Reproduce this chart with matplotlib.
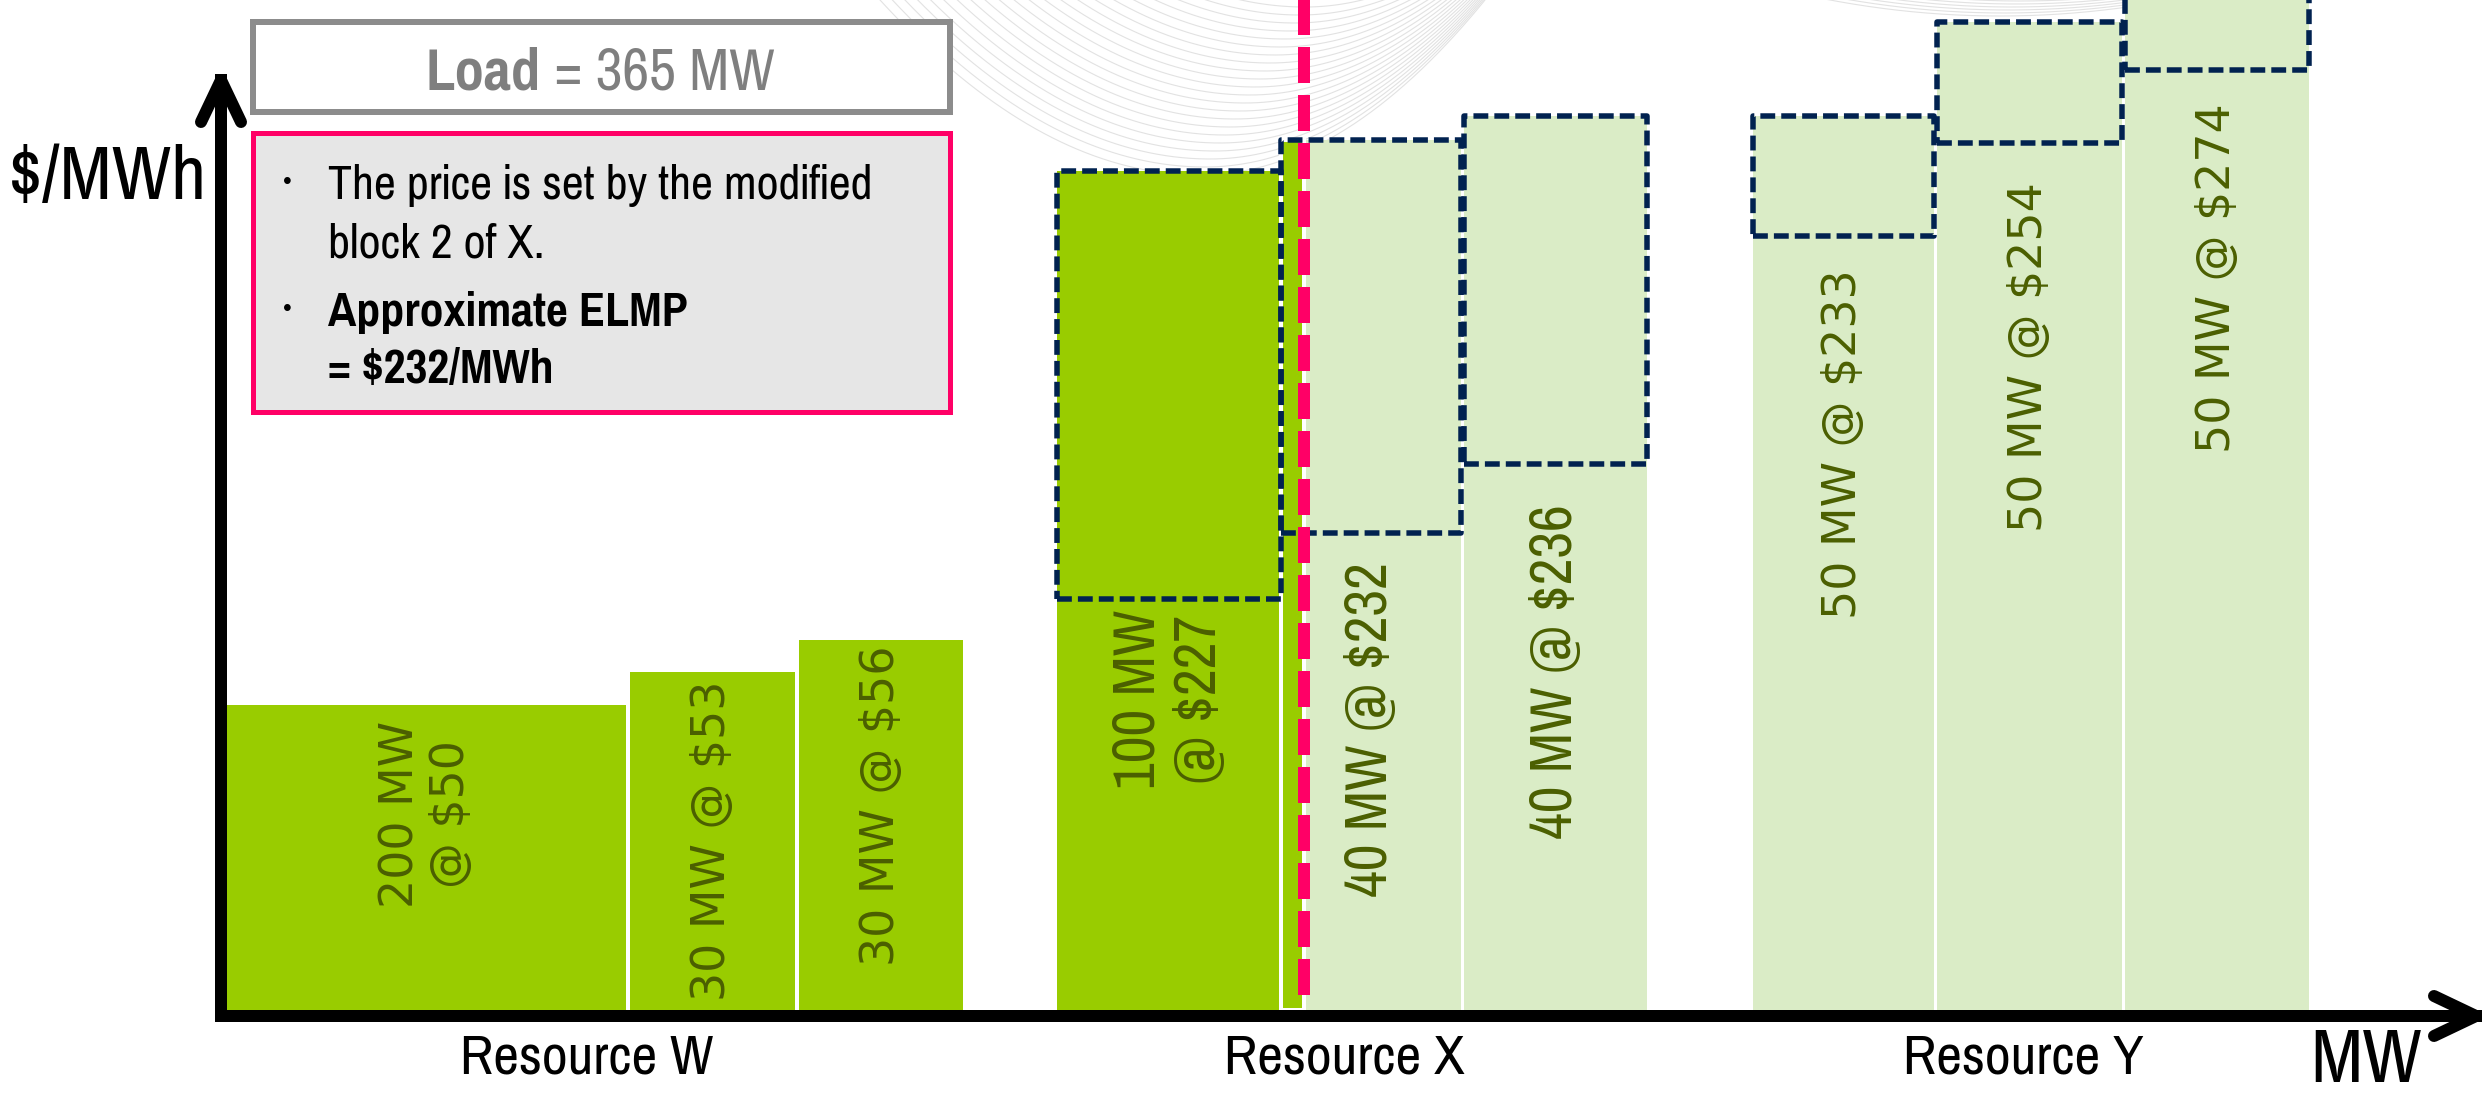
import matplotlib
matplotlib.use("Agg")
import matplotlib.pyplot as plt
import matplotlib.patches as patches
import numpy as np

# ---------------------------------------------------------------------------
# Data (offer stack, schematic - bars are not drawn to scale)
# ---------------------------------------------------------------------------
resources = ["Resource W", "Resource X", "Resource Y"]
block_resource = [0, 0, 0, 1, 1, 1, 2, 2, 2]
block_mw = [200, 30, 30, 100, 40, 40, 50, 50, 50]
block_price = [50, 53, 56, 227, 232, 236, 233, 254, 274]
label_wrap = [True, False, False, True, False, False, False, False, False]

# bar heights as drawn on the slide (px above the MW axis)
offer_height = [305, 338, 370, 411, 477, 546, 774, 867, 940]
modified_height = [None, None, None, 839, 870, 894, 894, 988, 1050]

load_mw = 365
elmp = 232

# ---------------------------------------------------------------------------
# Layout (pixels, origin at the axes corner)
# ---------------------------------------------------------------------------
bar_left = [6, 409, 578, 836, 1060, 1243, 1532, 1716, 1904]
bar_width = [399, 165, 164, 224, 180, 183, 181, 185, 184]
label_drop = [16, 9, 6, 11, 29, 40, 33, 39, 33]

W, H = 2484, 1095
X0, Y0 = 221, 1010          # axes corner in image pixels

DARK = "#99cc00"
LIGHT = "#daecc6"
NAVY = "#012250"
PINK = "#ff0066"
OLIVE = "#4b5f00"
GREY = "#8c8c8c"

NARROW = ["Pragati Narrow", "Roboto Condensed", "Archivo Narrow",
          "IBM Plex Sans Condensed", "Liberation Sans", "DejaVu Sans"]
WIDE = ["DejaVu Sans"]
PT = 72 / 100               # points per pixel at dpi 100

fig = plt.figure(figsize=(W / 100, H / 100), dpi=100)
ax = fig.add_axes([0, 0, 1, 1])
ax.set_xlim(-X0, W - X0)
ax.set_ylim(Y0 - H, Y0)
ax.axis("off")


def px(x, y):
    """image pixel -> data coords"""
    return np.asarray(x) - X0, Y0 - np.asarray(y)


# --- faint background swirl (slide template decoration) ---
xs = np.linspace(700, 1700, 600)
for i in range(22):
    bottom = 175 - 8 * i
    xc = 1200 + 5 * i
    k = np.where(xs < xc, 175 / 320 ** 2, 175 / 285 ** 2)
    ys = bottom - k * (xs - xc) ** 2
    m = ys > -5
    ax.plot(*px(xs[m], ys[m]), color="#e2e2e2", lw=0.8, zorder=0)
xs2 = np.linspace(1800, 2200, 300)
for i in range(6):
    ys = 16 - 3 * i - 16 / 170 ** 2 * (xs2 - 2000 - 4 * i) ** 2
    m = ys > -5
    ax.plot(*px(xs2[m], ys[m]), color="#e2e2e2", lw=0.8, zorder=0)

# --- bars ---
cum_before = np.concatenate([[0], np.cumsum(block_mw)[:-1]])
pink_x = None
for i in range(len(block_mw)):
    top = modified_height[i] if modified_height[i] is not None else offer_height[i]
    cleared = np.clip((load_mw - cum_before[i]) / block_mw[i], 0, 1)
    if cleared >= 1:
        ax.bar(bar_left[i], top, width=bar_width[i], align="edge",
               color=DARK, zorder=1)
    else:
        ax.bar(bar_left[i], top, width=bar_width[i], align="edge",
               color=LIGHT, zorder=1)
        if cleared > 0:
            sw = bar_width[i] * cleared
            ax.bar(bar_left[i], top, width=sw, align="edge", color=DARK,
                   edgecolor="white", linewidth=4 * PT, zorder=1.5)
            pink_x = bar_left[i] + sw

    if modified_height[i] is not None:
        ax.add_patch(patches.Rectangle(
            (bar_left[i], offer_height[i]), bar_width[i],
            modified_height[i] - offer_height[i],
            fill=False, edgecolor=NAVY, linewidth=5.5 * PT,
            linestyle=(0, (2.7, 1.1)), joinstyle="round", zorder=3))

    sep = "\n" if label_wrap[i] else " "
    txt = f"{block_mw[i]} MW{sep}@ ${block_price[i]}"
    if block_resource[i] == 1:
        fam, size, ls = NARROW, 46, 1.2
    else:
        fam, size, ls = WIDE, 33, 1.15
    ax.text(bar_left[i] + bar_width[i] / 2, offer_height[i] - label_drop[i],
            txt, rotation=90, ha="center", va="top", color=OLIVE,
            family=fam, fontsize=size, linespacing=ls, multialignment="center",
            zorder=4)

# --- load line (price-setting point) ---
ax.plot([pink_x, pink_x], [Y0 + 1, 15], color=PINK, lw=12 * PT,
        dashes=(3.0, 1.0), dash_capstyle="butt", zorder=5)

# --- axes with open arrow heads ---
ax.plot([0, 0, 2255], [930, -6, -6], color="black", lw=12 * PT,
        solid_joinstyle="miter", solid_capstyle="projecting", zorder=6)
ax.plot([-20, 0, 20], [930 - 42, 930, 930 - 42], color="black", lw=12 * PT,
        solid_joinstyle="round", solid_capstyle="round", zorder=6)
ax.plot([2255 - 42, 2255, 2255 - 42], [-6 + 20, -6, -6 - 20], color="black",
        lw=12 * PT, solid_joinstyle="round", solid_capstyle="round", zorder=6)

ax.text(*px(8, 199), "$/MWh", family=NARROW, fontsize=60, ha="left",
        va="baseline", color="black")
ax.text(*px(2366, 1082), "MW", family=NARROW, fontsize=60, ha="center",
        va="baseline", color="black")

# resource names under each group
for r, name in enumerate(resources):
    idx = [i for i in range(len(block_resource)) if block_resource[i] == r]
    left = bar_left[idx[0]]
    right = bar_left[idx[-1]] + bar_width[idx[-1]]
    ax.text((left + right) / 2 - 8, -64, name, family=NARROW, fontsize=44,
            ha="center", va="baseline", color="black")

# --- load box ---
bx, by = px(253, 112)
ax.add_patch(patches.Rectangle((bx, by), 697, 90, facecolor="white",
                               edgecolor=GREY, linewidth=6 * PT, zorder=7))
lx, ly = px(541, 89)
ax.text(lx, ly, "Load", family=NARROW, fontsize=46, fontweight="bold",
        color="#7f7f7f", ha="right", va="baseline", zorder=8)
ax.text(lx, ly, f" = {load_mw} MW", family=NARROW, fontsize=46,
        color="#7f7f7f", ha="left", va="baseline", zorder=8)

# --- note box ---
nx, ny = px(253, 412)
ax.add_patch(patches.Rectangle((nx, ny), 697, 279, facecolor="#e6e6e6",
                               edgecolor=PINK, linewidth=5 * PT, zorder=7))
notes = [("•", "The price is set by the modified", "normal", 199),
         ("", "block 2 of X.", "normal", 257),
         ("•", "Approximate ELMP", "bold", 326),
         ("", f"= ${elmp}/MWh", "bold", 383)]
for bullet, line, weight, base in notes:
    tx, ty = px(328, base)
    if bullet:
        ax.text(px(287, 0)[0], ty + 8, bullet, family=NARROW, fontsize=24,
                ha="center", va="baseline", color="black", zorder=8)
    ax.text(tx, ty, line, family=NARROW, fontsize=37.5, fontweight=weight,
            ha="left", va="baseline", color="black", zorder=8)

fig.savefig("out.png", dpi=100, facecolor="white")
